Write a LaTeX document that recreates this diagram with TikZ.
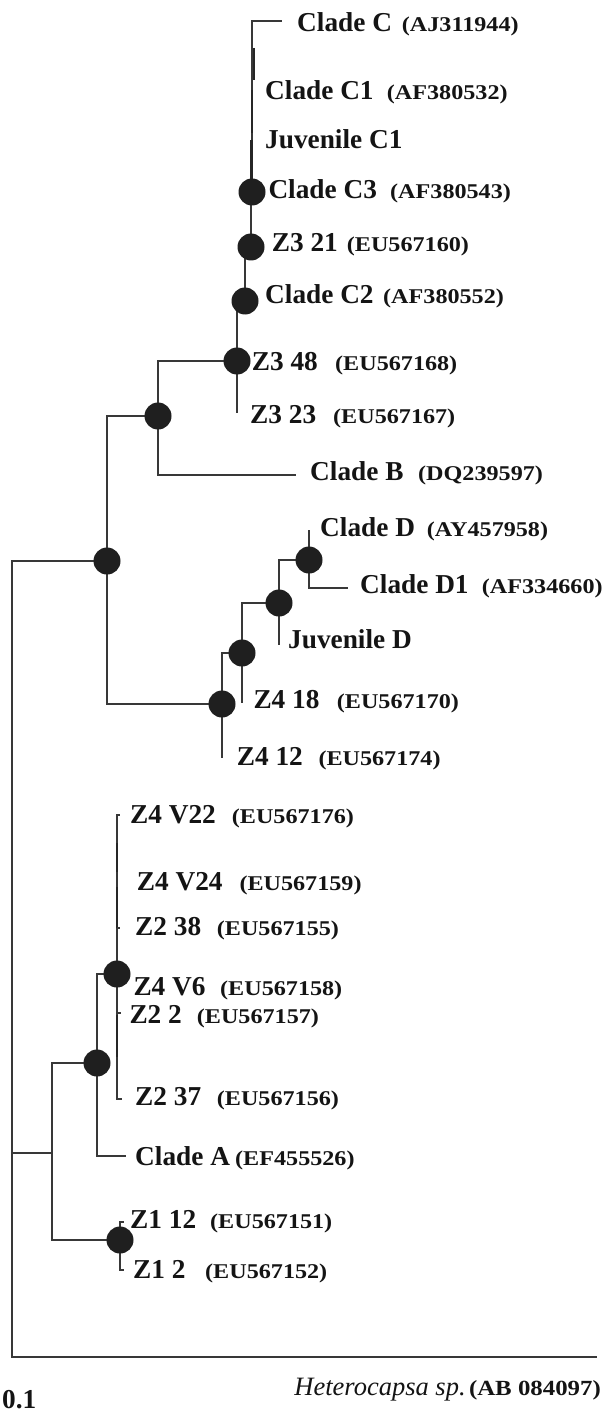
\documentclass[tikz,border=0pt]{standalone}
\usepackage{fontspec}
\setmainfont{Liberation Serif}
\newfontfamily\nmfont{Liberation Serif}
\newfontfamily\accfont{Liberation Serif}[FakeStretch=1.15]
\tikzset{
  br/.style={line width=1.4pt, draw=black!78},
  thk/.style={line width=2.4pt, draw=black!85},
  dot/.style={circle, fill=black!88, draw=none, inner sep=0pt, minimum size=27pt},
  nm/.style={anchor=base west, inner sep=0pt, text=black!92, font=\nmfont\bfseries\fontsize{27.3}{30}\selectfont},
  acc/.style={anchor=base west, inner sep=0pt, text=black!92, font=\accfont\bfseries\fontsize{21}{24}\selectfont},
}
\begin{document}
\begin{tikzpicture}[x=1pt,y=-1pt]
\useasboundingbox[fill=white] (0,0) rectangle (608,1412);
% coordinates of branch ends
\coordinate (R) at (12,960);
\coordinate (n2) at (52,1153);
\coordinate (lC) at (282,21);
\coordinate (lB) at (296,475);
\coordinate (lZ323) at (237,413);
\coordinate (lD) at (309,530);
\coordinate (lD1) at (348,588);
\coordinate (lJD) at (279,645);
\coordinate (lZ418) at (242,703);
\coordinate (lZ412) at (222,758);
\coordinate (lV22) at (120,815);
\coordinate (lV38) at (120,928);
\coordinate (lZ22) at (121,1013);
\coordinate (lZ237) at (122,1099);
\coordinate (lA) at (126,1156);
\coordinate (lZ112) at (124,1222);
\coordinate (lZ12) at (124,1270);
\coordinate (het) at (597,1357);
% internal nodes (positions)
\path (107,561) coordinate (n1c) (158,416) coordinate (n3c) (237,361) coordinate (n5c)
      (245,301) coordinate (nC2c) (251,247) coordinate (nZ321c) (252,192) coordinate (nC3c)
      (222,704) coordinate (n4c) (242,653) coordinate (n6c) (279,603) coordinate (n7c)
      (309,560) coordinate (n8c) (97,1063) coordinate (nAc) (117,974) coordinate (nVc)
      (120,1240) coordinate (nZ1c);
% branches
\draw[br] (R) |- (n1c);
\draw[br] (R) |- (n2);
\draw[br] (R) |- (het);
\draw[br] (n1c) |- (n3c);
\draw[br] (n1c) |- (n4c);
\draw[br] (n3c) |- (n5c);
\draw[br] (n3c) |- (lB);
\draw[br] (n5c) |- (nC2c);
\draw[br] (n5c) -- (lZ323);
\draw[br] (nC2c) |- (nZ321c);
\draw[br] (nZ321c) |- (nC3c);
\draw[br] (nC3c) -- (252,21) -- (lC);
\draw[thk] (254,48) -- (254,80);
\draw[thk] (252,90) -- (252,133);
\draw[thk] (251.5,140) -- (251.5,190);
\draw[br] (n4c) |- (n6c);
\draw[br] (n4c) -- (lZ412);
\draw[br] (n6c) |- (n7c);
\draw[br] (n6c) -- (lZ418);
\draw[br] (n7c) |- (n8c);
\draw[br] (n7c) -- (lJD);
\draw[br] (n8c) -- (lD);
\draw[br] (n8c) |- (lD1);
\draw[br] (n2) |- (nAc);
\draw[br] (n2) |- (nZ1c);
\draw[br] (nAc) |- (nVc);
\draw[br] (nAc) |- (lA);
\draw[br] (nVc) |- (lV22);
\draw[thk] (117,843) -- (117,872);
\draw[thk] (117,887) -- (117,928);
\draw[br] (117,928) -- (lV38);
\draw[br] (nVc) |- (lZ237);
\draw[thk] (117,1015) -- (117,1057);
\draw[br] (117,1013) -- (lZ22);
\draw[br] (nZ1c) |- (lZ112);
\draw[br] (nZ1c) |- (lZ12);
% support dots
\foreach \n in {n1,n3,n5,nC2,nZ321,nC3,n4,n6,n7,n8,nA,nV,nZ1}
  \node[dot] (\n) at (\n c) {};
% labels
\node[nm] (tC) at (297,31.7) {Clade C};
\node[acc] (aC) at (401.7,31.7) {(AJ311944)};
\node[nm] (tC1) at (265,100) {Clade C1};
\node[acc] (aC1) at (386.7,100) {(AF380532)};
\node[nm] (tJC1) at (265,148.3) {Juvenile C1};
\node[nm] (tC3) at (268.3,198.3) {Clade C3};
\node[acc] (aC3) at (390,198.3) {(AF380543)};
\node[nm] (tZ321) at (271.7,251.7) {Z3 21};
\node[acc] (aZ321) at (346.7,251.7) {(EU567160)};
\node[nm] (tC2) at (265,303.3) {Clade C2};
\node[acc] (aC2) at (383,303.3) {(AF380552)};
\node[nm] (tZ348) at (251.7,370) {Z3 48};
\node[acc] (aZ348) at (335,370) {(EU567168)};
\node[nm] (tZ323) at (250,423.3) {Z3 23};
\node[acc] (aZ323) at (333,423.3) {(EU567167)};
\node[nm] (tB) at (310,480) {Clade B};
\node[acc] (aB) at (418,480) {(DQ239597)};
\node[nm] (tD) at (320,536.7) {Clade D};
\node[acc] (aD) at (426.7,536.7) {(AY457958)};
\node[nm] (tD1) at (360,593) {Clade D1};
\node[acc] (aD1) at (481.7,593) {(AF334660)};
\node[nm] (tJD) at (288,648.3) {Juvenile D};
\node[nm] (tZ418) at (253.3,708.3) {Z4 18};
\node[acc] (aZ418) at (336.7,708.3) {(EU567170)};
\node[nm] (tZ412) at (236.7,765) {Z4 12};
\node[acc] (aZ412) at (318.3,765) {(EU567174)};
\node[nm] (tV22) at (130,823.3) {Z4 V22};
\node[acc] (aV22) at (231.7,823.3) {(EU567176)};
\node[nm] (tV24) at (136.7,890) {Z4 V24};
\node[acc] (aV24) at (239.3,890) {(EU567159)};
\node[nm] (tZ238) at (135,935) {Z2 38};
\node[acc] (aZ238) at (216.7,935) {(EU567155)};
\node[nm] (tV6) at (133.3,995) {Z4 V6};
\node[acc] (aV6) at (220,995) {(EU567158)};
\node[nm] (tZ22) at (129.3,1023.3) {Z2 2};
\node[acc] (aZ22) at (196.7,1023.3) {(EU567157)};
\node[nm] (tZ237) at (135,1105) {Z2 37};
\node[acc] (aZ237) at (216.7,1105) {(EU567156)};
\node[nm] (tA) at (135,1165) {Clade A};
\node[acc] (aA) at (235,1165) {(EF455526)};
\node[nm] (tZ112) at (130,1228) {Z1 12};
\node[acc] (aZ112) at (210,1228) {(EU567151)};
\node[nm] (tZ12) at (133,1278) {Z1 2};
\node[acc] (aZ12) at (205,1278) {(EU567152)};
\node[anchor=base east, inner sep=0pt, text=black!92] (tHet) at (601,1395)
  {{\nmfont\itshape\fontsize{26.5}{28}\selectfont Heterocapsa sp.} {\accfont\bfseries\fontsize{21.6}{24}\selectfont (AB 084097)}};
\node[nm] (scale) at (2,1408) {0.1};
\end{tikzpicture}
\end{document}
